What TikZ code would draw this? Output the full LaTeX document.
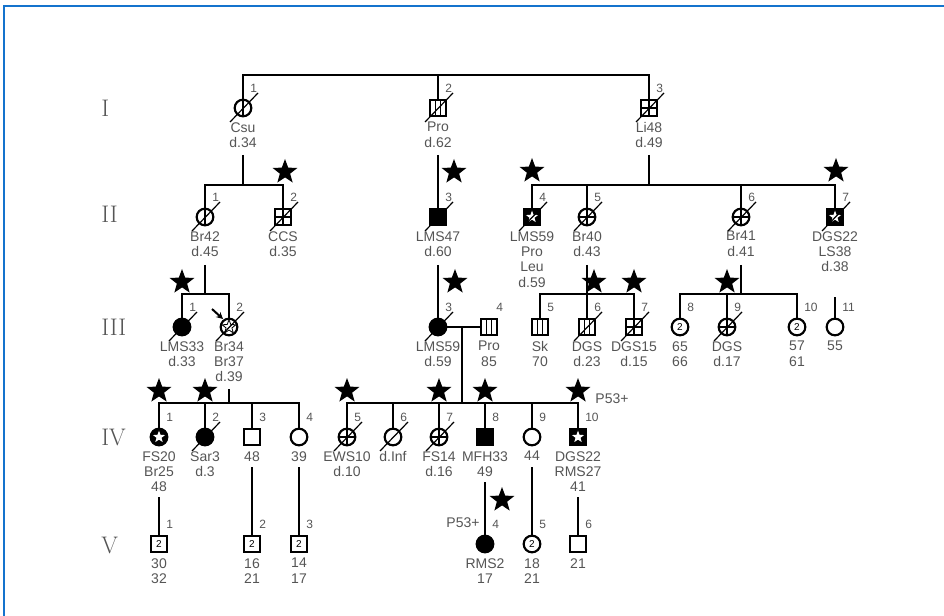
\documentclass[tikz,border=0pt]{standalone}
\usepackage{fontspec}
\usetikzlibrary{shapes.geometric,arrows.meta}
\newfontfamily\labf{Liberation Sans}
\definecolor{labgray}{RGB}{85,85,85}
\definecolor{bordblue}{RGB}{20,115,205}
\tikzset{
 ind/.style={draw, line width=1.6pt, minimum size=12.5pt, inner sep=0pt, outer sep=0pt, fill=white, font=\labf\fontsize{7.5}{8}\selectfont},
 fem/.style={ind, circle},
 mal/.style={ind, rectangle},
 aff/.style={fill=black},
 ln/.style={line width=1.9pt},
 inl/.style={line width=0.9pt},
 thk/.style={line width=1.6pt},
 dsl/.style={line width=0.9pt},
 lab/.style={font=\labf\fontsize{10.5}{11.6}\selectfont, text=labgray, align=center, anchor=north, inner sep=0pt},
 num/.style={font=\labf\fontsize{9}{10}\selectfont, text=labgray, anchor=west, inner sep=0pt},
 gen/.style={font=\fontsize{18}{18}\selectfont, text=labgray, anchor=west, inner sep=0pt},
 txt/.style={font=\labf\fontsize{10.5}{11.6}\selectfont, text=labgray, inner sep=0pt},
 bstar/.style={star, star points=5, star point ratio=2.4, fill=black, minimum size=19.5pt, inner sep=0pt},
 wstar/.style={star, star points=5, star point ratio=2.4, fill=white, minimum size=9.5pt, inner sep=0pt},
 ostar/.style={star, star points=5, star point ratio=2.4, draw=black, line width=0.6pt, minimum size=11pt, inner sep=0pt},
}
\newcommand\pind[7][]{%
 \node[#5] (#2) at (#3,#4) {#1};
 \node[num] (#2n) at ([shift={(7,-20)}]#2.center) {#6};
 \node[lab] (#2l) at ([shift={(0,14)}]#2.center) {#7};}
\newcommand\pdead[1]{\draw[dsl] ([shift={(-13,14)}]#1.center) -- ([shift={(15,-15)}]#1.center);}
\newcommand\pvl[1]{\draw[ln] (#1.north) -- (#1.south);}
\newcommand\pstr[1]{\draw[inl] ([xshift=-2pt]#1.north) -- ([xshift=-2pt]#1.south); \draw[inl] ([xshift=2pt]#1.north) -- ([xshift=2pt]#1.south);}
\newcommand\pxc[1]{\draw[thk] (#1.north) -- (#1.south) (#1.west) -- (#1.east);}
\newcommand\ppl[1]{\draw[inl] (#1.north) -- (#1.south) (#1.west) -- (#1.east);}
\newcommand\pws[1]{\node[wstar] (#1w) at (#1.center) {};}
\begin{document}
\begin{tikzpicture}[x=0.75pt,y=-0.75pt]
\useasboundingbox (0,0) rectangle (944,616);
\draw[bordblue, line width=1.5pt] (4,616) -- (4,6) -- (944,6);

% generation numerals
\node[gen] (gI) at (101,108) {I};
\node[gen] (gII) at (101,214) {II};
\node[gen] (gIII) at (101,327) {III};
\node[gen] (gIV) at (101,437) {IV};
\node[gen] (gV) at (101,545) {V};

% junction coordinates
\coordinate (jI1) at (243,75); \coordinate (jI2) at (438,75); \coordinate (jI3) at (649,75);
\coordinate (dI1) at (243,155); \coordinate (hII1) at (243,185);
\coordinate (hIIa) at (205,185); \coordinate (hIIb) at (283,185);
\coordinate (dI2) at (438,155);
\coordinate (dI3) at (649,155); \coordinate (hII3) at (649,185);
\coordinate (hIIc) at (532,185); \coordinate (hIId) at (835,185);
\coordinate (hIIe) at (587,185); \coordinate (hIIf) at (741,185);
\coordinate (dII1) at (205,265); \coordinate (hIIIa) at (205,294);
\coordinate (hIIIb) at (182,294); \coordinate (hIIIc) at (229,294);
\coordinate (dII3) at (438,265);
\coordinate (mIII) at (462,327); \coordinate (hIVm) at (462,403);
\coordinate (dII5) at (587,265);
\coordinate (hIIId) at (540,294); \coordinate (hIIIe) at (634,294);
\coordinate (dII6) at (741,265); \coordinate (hIIIg) at (741,294);
\coordinate (hIIIh) at (680,294); \coordinate (hIIIi) at (797,294); \coordinate (hIIIj) at (727,294);
\coordinate (dII7) at (835,297);
\coordinate (dIII2) at (229,389); \coordinate (hIVa) at (229,403);
\coordinate (hIVb) at (159,403); \coordinate (hIVc) at (299,403);
\coordinate (hIVd) at (205,403); \coordinate (hIVe) at (252,403);
\coordinate (hIVf) at (347,403); \coordinate (hIVg) at (578,403);
\coordinate (hIVh) at (393,403); \coordinate (hIVi) at (439,403);
\coordinate (hIVj) at (485,403); \coordinate (hIVk) at (532,403);
\coordinate (dIV1) at (159,497); \coordinate (dIV3) at (252,467);
\coordinate (dIV4) at (299,467); \coordinate (dIV8) at (485,482);
\coordinate (dIV9) at (532,467); \coordinate (dIV10) at (578,497);
\coordinate (pbA) at (212,309); \coordinate (pbB) at (223,319);

% individuals
\pind{I1}{243}{108}{fem}{1}{Csu\\d.34}
\pind{I2}{438}{108}{mal}{2}{Pro\\d.62}
\pind{I3}{649}{108}{mal}{3}{Li48\\d.49}
\pind{II1}{205}{217}{fem}{1}{Br42\\d.45}
\pind{II2}{283}{217}{mal}{2}{CCS\\d.35}
\pind{II3}{438}{217}{mal,aff}{3}{LMS47\\d.60}
\pind{II4}{532}{217}{mal,aff}{4}{LMS59\\Pro\\Leu\\d.59}
\pind{II5}{587}{217}{fem}{5}{Br40\\d.43}
\pind{II6}{741}{217}{fem}{6}{Br41\\d.41}
\pind{II7}{835}{217}{mal,aff}{7}{DGS22\\LS38\\d.38}
\pind{III1}{182}{327}{fem,aff}{1}{LMS33\\d.33}
\pind{III2}{229}{327}{fem}{2}{Br34\\Br37\\d.39}
\pind{III3}{438}{327}{fem,aff}{3}{LMS59\\d.59}
\pind{III4}{489}{327}{mal}{4}{Pro\\85}
\pind{III5}{540}{327}{mal}{5}{Sk\\70}
\pind{III6}{587}{327}{mal}{6}{DGS\\d.23}
\pind{III7}{634}{327}{mal}{7}{DGS15\\d.15}
\pind[2]{III8}{680}{327}{fem}{8}{65\\66}
\pind{III9}{727}{327}{fem}{9}{DGS\\d.17}
\pind[2]{III10}{797}{327}{fem}{10}{57\\61}
\pind{III11}{835}{327}{fem}{11}{55}
\pind{IV1}{159}{437}{fem,aff}{1}{FS20\\Br25\\48}
\pind{IV2}{205}{437}{fem,aff}{2}{Sar3\\d.3}
\pind{IV3}{252}{437}{mal}{3}{48}
\pind{IV4}{299}{437}{fem}{4}{39}
\pind{IV5}{347}{437}{fem}{5}{EWS10\\d.10}
\pind{IV6}{393}{437}{fem}{6}{d.Inf}
\pind{IV7}{439}{437}{fem}{7}{FS14\\d.16}
\pind{IV8}{485}{437}{mal,aff}{8}{MFH33\\49}
\pind{IV9}{532}{437}{fem}{9}{44}
\pind{IV10}{578}{437}{mal,aff}{10}{DGS22\\RMS27\\41}
\pind[2]{V1}{159}{544}{mal}{1}{30\\32}
\pind[2]{V2}{252}{544}{mal}{2}{16\\21}
\pind[2]{V3}{299}{544}{mal}{3}{14\\17}
\pind{V4}{485}{544}{fem,aff}{4}{RMS2\\17}
\pind[2]{V5}{532}{544}{fem}{5}{18\\21}
\pind{V6}{578}{544}{mal}{6}{21}

% connectors
\draw[ln] (I1.north) -- (jI1) -- (jI3) -- (I3.north);
\draw[ln] (jI2) -- (I2.north);
\draw[ln] (dI1) -- (hII1);
\draw[ln] (II1.north) -- (hIIa) -- (hIIb) -- (II2.north);
\draw[ln] (dI2) -- (II3.north);
\draw[ln] (dI3) -- (hII3);
\draw[ln] (II4.north) -- (hIIc) -- (hIId) -- (II7.north);
\draw[ln] (hIIe) -- (II5.north);
\draw[ln] (hIIf) -- (II6.north);
\draw[ln] (dII1) -- (hIIIa);
\draw[ln] (III1.north) -- (hIIIb) -- (hIIIc) -- (III2.north);
\draw[ln] (dII3) -- (III3.north);
\draw[ln] (III3.east) -- (III4.west);
\draw[ln] (mIII) -- (hIVm);
\draw[ln] (dII5) -- (III6.north);
\draw[ln] (III5.north) -- (hIIId) -- (hIIIe) -- (III7.north);
\draw[ln] (dII6) -- (hIIIg);
\draw[ln] (III8.north) -- (hIIIh) -- (hIIIi) -- (III10.north);
\draw[ln] (hIIIj) -- (III9.north);
\draw[ln] (dII7) -- (III11.north);
\draw[ln] (dIII2) -- (hIVa);
\draw[ln] (IV1.north) -- (hIVb) -- (hIVc) -- (IV4.north);
\draw[ln] (hIVd) -- (IV2.north);
\draw[ln] (hIVe) -- (IV3.north);
\draw[ln] (IV5.north) -- (hIVf) -- (hIVg) -- (IV10.north);
\draw[ln] (hIVh) -- (IV6.north);
\draw[ln] (hIVi) -- (IV7.north);
\draw[ln] (hIVj) -- (IV8.north);
\draw[ln] (hIVk) -- (IV9.north);
\draw[ln] (dIV1) -- (V1.north);
\draw[ln] (dIV3) -- (V2.north);
\draw[ln] (dIV4) -- (V3.north);
\draw[ln] (dIV8) -- (V4.north);
\draw[ln] (dIV9) -- (V5.north);
\draw[ln] (dIV10) -- (V6.north);
\draw[line width=1.5pt, -{Stealth[length=5pt,width=5pt]}] (pbA) -- (pbB);

% symbol details
\pvl{I1} \pvl{II1}
\pstr{I2} \pstr{III4} \pstr{III5} \pstr{III6}
\pxc{I3} \pxc{II2} \pxc{III7}
\ppl{II5} \ppl{II6} \ppl{III9} \ppl{IV5} \ppl{IV7}
\pws{II4} \pws{II7} \pws{IV10} \pws{IV1}
\node[ostar] (III2w) at (III2.center) {};

% deceased
\pdead{I1} \pdead{I2} \pdead{I3}
\pdead{II1} \pdead{II2} \pdead{II3} \pdead{II4} \pdead{II5} \pdead{II6} \pdead{II7}
\pdead{III1} \pdead{III2} \pdead{III3} \pdead{III6} \pdead{III7} \pdead{III9}
\pdead{IV2} \pdead{IV5} \pdead{IV6} \pdead{IV7}

% stars
\node[bstar] (sII2) at (285,172) {};
\node[bstar] (sII3) at (454,172) {};
\node[bstar] (sII4) at (532,171) {};
\node[bstar] (sII7) at (836,171) {};
\node[bstar] (sIII1) at (182,282) {};
\node[bstar] (sIII3) at (455,282) {};
\node[bstar] (sIII6) at (594,282) {};
\node[bstar] (sIII7) at (634,282) {};
\node[bstar] (sIII9) at (727,282) {};
\node[bstar] (sIV1) at (159,391) {};
\node[bstar] (sIV2) at (205,391) {};
\node[bstar] (sIV5) at (347,391) {};
\node[bstar] (sIV7) at (439,391) {};
\node[bstar] (sIV8) at (485,391) {};
\node[bstar] (sIV10) at (578,391) {};
\node[bstar] (sV4) at (502,500) {};
\node[txt] (pIV10) at (612,399) {P53+};
\node[txt] (pV4) at (463,523) {P53+};
\end{tikzpicture}
\end{document}
